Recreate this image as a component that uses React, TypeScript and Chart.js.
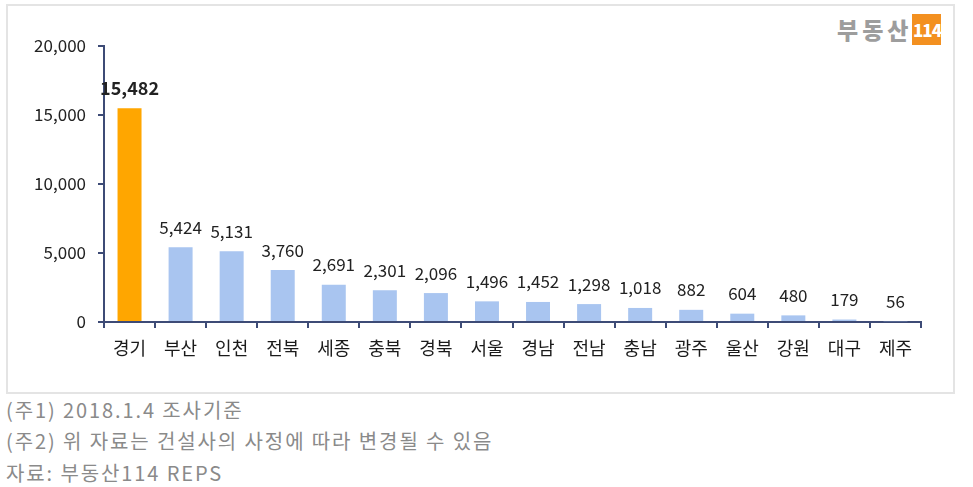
import Chart from 'chart.js/auto';
import { useEffect, useRef } from 'react';

const regions = ['경기', '부산', '인천', '전북', '세종', '충북', '경북', '서울', '경남', '전남', '충남', '광주', '울산', '강원', '대구', '제주'];
const supply = [15482, 5424, 5131, 3760, 2691, 2301, 2096, 1496, 1452, 1298, 1018, 882, 604, 480, 179, 56];
const notes = ['(주1) 2018.1.4 조사기준', '(주2) 위 자료는 건설사의 사정에 따라 변경될 수 있음', '자료: 부동산114 REPS'];
const noteCenters = [410, 441, 473];

const FONT = "'Noto Sans CJK KR', 'Noto Sans', sans-serif";
const AXIS = '#3d4b76';

// numbers above each bar, the first one in bold
const valueLabels = {
  id: 'valueLabels',
  afterDatasetsDraw(chart: any) {
    const ctx = chart.ctx;
    const meta = chart.getDatasetMeta(0);
    ctx.save();
    ctx.textAlign = 'center';
    ctx.textBaseline = 'middle';
    meta.data.forEach((bar: any, i: number) => {
      ctx.font = (i === 0 ? 'bold 18px ' : '17px ') + FONT;
      ctx.fillStyle = '#222';
      ctx.fillText(supply[i].toLocaleString('en-US'), bar.x, bar.y - 20);
    });
    ctx.restore();
  }
};

const App = () => {
  const chartRef = useRef<HTMLCanvasElement | null>(null);

  useEffect(() => {
    if (!chartRef.current) return;
    const chart = new Chart(chartRef.current, {
      type: 'bar',
      data: {
        labels: regions,
        datasets: [
          {
            data: supply,
            backgroundColor: supply.map((_, i) => (i === 0 ? '#ffa600' : '#a9c5f0')),
            barPercentage: 0.47,
            categoryPercentage: 1
          }
        ]
      },
      options: {
        animation: false,
        responsive: false,
        layout: { padding: { left: 0, right: 32, top: 41, bottom: 0 } },
        plugins: { legend: { display: false }, tooltip: { enabled: false } },
        scales: {
          x: {
            grid: { drawOnChartArea: false, tickLength: 6, color: AXIS, lineWidth: 2 },
            border: { color: AXIS, width: 2 },
            ticks: { color: '#1a1a1a', font: { family: FONT, size: 18 }, padding: 9, maxRotation: 0 },
            afterFit: (s: any) => {
              s.height = 70;
            }
          },
          y: {
            min: 0,
            max: 20000,
            grid: { drawOnChartArea: false, tickLength: 6, color: AXIS, lineWidth: 2 },
            border: { color: AXIS, width: 2 },
            ticks: {
              stepSize: 5000,
              color: '#222',
              padding: 12,
              font: { family: FONT, size: 17 },
              callback: (v: any) => Number(v).toLocaleString('en-US')
            },
            afterFit: (s: any) => {
              s.width = 97;
            }
          }
        }
      },
      plugins: [valueLabels]
    });
    return () => chart.destroy();
  }, []);

  return (
    <div style={{ position: 'absolute', left: 0, top: 0, width: 973, height: 487, background: '#fff', fontFamily: FONT }}>
      <div
        style={{
          position: 'absolute',
          left: 6,
          top: 4,
          width: 945,
          height: 386,
          border: '2px solid #e4e4e4'
        }}
      />
      <div style={{ position: 'absolute', left: 837, top: 14, height: 31, display: 'flex', alignItems: 'center' }}>
        <span style={{ color: '#9d9d9d', fontWeight: 900, fontSize: 23, letterSpacing: 4, lineHeight: '31px' }}>부동산</span>
        <span
          style={{
            background: '#f39020',
            color: '#fff',
            fontWeight: 900,
            fontSize: 17,
            width: 29,
            height: 31,
            lineHeight: '31px',
            textAlign: 'center',
            letterSpacing: -1
          }}
        >
          114
        </span>
      </div>
      <canvas ref={chartRef} width={946} height={387} style={{ position: 'absolute', left: 7, top: 5 }} />
      {notes.map((t, i) => (
        <div
          key={i}
          style={{
            position: 'absolute',
            left: 6,
            top: noteCenters[i] - 15,
            height: 30,
            lineHeight: '30px',
            fontSize: 20,
            letterSpacing: 1.9,
            color: '#8a8a8a',
            whiteSpace: 'nowrap'
          }}
        >
          {t}
        </div>
      ))}
    </div>
  );
};

export default App;
